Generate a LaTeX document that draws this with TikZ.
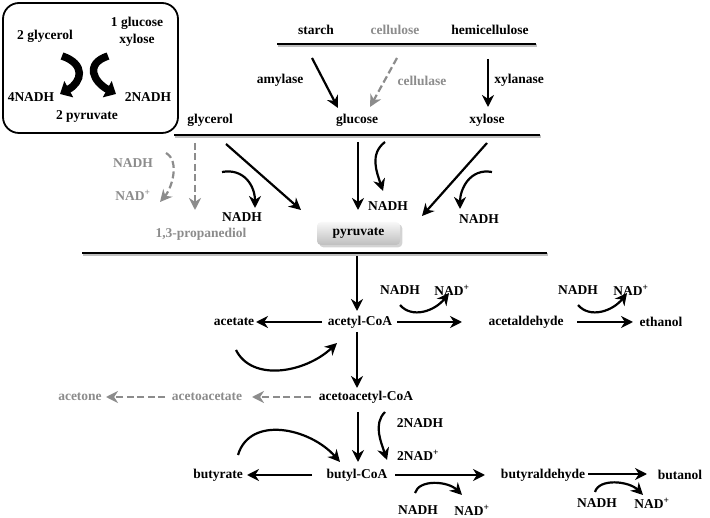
\documentclass[tikz,border=0pt]{standalone}
\usepackage{fontspec}
\setmainfont{Liberation Serif}
\usepackage{xcolor}
\definecolor{pathgray}{RGB}{140, 140, 140}
\definecolor{boxtop}{RGB}{248, 248, 248}
\definecolor{boxbottom}{RGB}{190, 190, 190}
\usetikzlibrary{arrows.meta, positioning, shadows}

\begin{document}
\begin{tikzpicture}[
        x=1pt, y=-1pt,
        every node/.style={font=\bfseries\fontsize{13.5}{17}\selectfont, inner sep=1pt},
        faded/.style={text=pathgray},
        flow/.style={-{Stealth[length=12pt, width=12pt]}, line width=2.2pt},
        gflow/.style={flow, draw=pathgray, dash pattern=on 7pt off 3.5pt},
        bigflow/.style={-{Triangle[length=10pt, width=18pt]}, line width=7.5pt},
        level/.style={line width=2.6pt, preaction={draw=black!25, line width=2.6pt, transform canvas={shift={(1pt,-1.5pt)}}}},
        hub/.style={rectangle, rounded corners=4pt, minimum width=83pt, minimum height=23pt, top color=boxtop, bottom color=boxbottom, drop shadow={opacity=0.35}},
    ]
        \useasboundingbox (0,0) rectangle (710,518);

        % Yield box
        \draw[line width=1.8pt, rounded corners=16pt] (3,3) rectangle (178,133);
        \node (boxGly) at (45,36) {2 glycerol};
        \node[align=center] (boxSugar) at (137,32) {1 glucose\\xylose};
        \node (box4) at (31,97) {4NADH};
        \node (box2) at (148,97) {2NADH};
        \node (boxPyr) at (87,116) {2 pyruvate};
        \draw[bigflow] ([shift={(17,20)}]boxGly.center) .. controls +(24,8) and +(22,-12) .. ([shift={(29,-3)}]box4.center);
        \draw[bigflow] ([shift={(-29,24)}]boxSugar.center) .. controls +(-24,8) and +(-22,-12) .. ([shift={(-32,-3)}]box2.center);

        % Polymers
        \node (starch) at (316,30) {starch};
        \node[faded] (cellulose) at (395,30) {cellulose};
        \node (hemicell) at (490,30) {hemicellulose};
        \draw[level] (277,44) -- (536,44);

        \node (amylase) at (280,80) {amylase};
        \node[faded] (cellulase) at (422,81) {cellulase};
        \node (xylanase) at (519,80) {xylanase};

        % Substrates
        \node (glycerol) at (210,120) {glycerol};
        \node (glucose) at (357,120) {glucose};
        \node (xylose) at (487,120) {xylose};
        \draw[level] (174,135) -- (540,135);

        \draw[flow] ([shift={(-4,28)}]starch.center) -- ([shift={(-19,-12)}]glucose.center);
        \draw[gflow] ([shift={(2,28)}]cellulose.center) -- ([shift={(13,-13)}]glucose.center);
        \draw[flow] ([shift={(-2,29)}]hemicell.center) -- ([shift={(1,-13)}]xylose.center);

        % Glycolysis
        \node[faded] (gNADH) at (133,163) {NADH};
        \node[faded] (gNAD) at (133,195) {NAD\textsuperscript{+}};
        \node[faded] (propanediol) at (201,234) {1,3-propanediol};
        \node (nadhGly) at (242,217) {NADH};
        \node (nadhGlc) at (388,206) {NADH};
        \node (nadhXyl) at (479,219) {NADH};
        \node[hub] (pyruvate) at (358.5,233.5) {pyruvate};
        \draw[level] (82,253) -- (547,253);

        \draw[gflow] ([shift={(-15,23)}]glycerol.center) -- ([shift={(-6,-24)}]propanediol.center);
        \draw[gflow] ([shift={(33,-10)}]gNADH.center) .. controls +(14,8) and +(12,-14) .. ([shift={(27,7)}]gNAD.center);
        \draw[flow] ([shift={(16,24)}]glycerol.center) -- ([shift={(-57.5,-23.5)}]pyruvate.center);
        \draw[flow] ([shift={(-20,-45)}]nadhGly.center) .. controls +(22,-4) and +(0,-22) .. ([shift={(13,-9)}]nadhGly.center);
        \draw[flow] ([shift={(1,22)}]glucose.center) -- ([shift={(-0.5,-23.5)}]pyruvate.center);
        \draw[flow] ([shift={(-3,-64)}]nadhGlc.center) .. controls +(-16,12) and +(-6,-18) .. ([shift={(-5,-15)}]nadhGlc.center);
        \draw[flow] ([shift={(0,23)}]xylose.center) -- ([shift={(63.5,-17.5)}]pyruvate.center);
        \draw[flow] ([shift={(13,-47)}]nadhXyl.center) .. controls +(-22,-4) and +(0,-20) .. ([shift={(-19,-10)}]nadhXyl.center);

        % Acetyl-CoA branch
        \node (acetylCoA) at (360,322) {acetyl-CoA};
        \node (acetate) at (234,322) {acetate};
        \node (acetaldehyde) at (526,322) {acetaldehyde};
        \node (ethanol) at (661,322) {ethanol};
        \node (nadhAc) at (400,290) {NADH};
        \node (nadAc) at (452,290) {NAD\textsuperscript{+}};
        \node (nadhEt) at (578,290) {NADH};
        \node (nadEt) at (631,290) {NAD\textsuperscript{+}};

        \draw[flow] ([shift={(-1.5,22.5)}]pyruvate.center) -- ([shift={(-3,-11)}]acetylCoA.center);
        \draw[flow] ([shift={(-38,0)}]acetylCoA.center) -- ([shift={(22,0)}]acetate.center);
        \draw[flow] ([shift={(37,0)}]acetylCoA.center) -- ([shift={(-64,0)}]acetaldehyde.center);
        \draw[flow] ([shift={(0,15)}]nadhAc.center) .. controls +(12,14) and +(-14,18) .. ([shift={(-3,3)}]nadAc.center);
        \draw[flow] ([shift={(51,0)}]acetaldehyde.center) -- ([shift={(-28,0)}]ethanol.center);
        \draw[flow] ([shift={(0,15)}]nadhEt.center) .. controls +(12,14) and +(-14,18) .. ([shift={(-4,3)}]nadEt.center);
        \draw[flow] ([shift={(2,28)}]acetate.center) .. controls +(16,32) and +(-32,30) .. ([shift={(-23,21)}]acetylCoA.center);

        % Solvent branch
        \node (acetoacetylCoA) at (366,397) {acetoacetyl-CoA};
        \node[faded] (acetoacetate) at (207,397) {acetoacetate};
        \node[faded] (acetone) at (80,397) {acetone};
        \node (nadh2Bu) at (420,423) {2NADH};
        \node (nad2Bu) at (418,455) {2NAD\textsuperscript{+}};

        \draw[flow] ([shift={(-3,10)}]acetylCoA.center) -- ([shift={(-9,-9)}]acetoacetylCoA.center);
        \draw[gflow] ([shift={(-55,0)}]acetoacetylCoA.center) -- ([shift={(45,0)}]acetoacetate.center);
        \draw[gflow] ([shift={(-42,0)}]acetoacetate.center) -- ([shift={(26,0)}]acetone.center);

        \node (butylCoA) at (357,475) {butyl-CoA};
        \node (butyrate) at (218,475) {butyrate};
        \node (butyraldehyde) at (543,475) {butyraldehyde};
        \node (butanol) at (680,475) {butanol};
        \node (nadhBa) at (418,510) {NADH};
        \node (nadBa) at (472,510) {NAD\textsuperscript{+}};
        \node (nadhBo) at (597,503) {NADH};
        \node (nadBo) at (652,503) {NAD\textsuperscript{+}};

        \draw[flow] ([shift={(-8,15)}]acetoacetylCoA.center) -- ([shift={(1,-13)}]butylCoA.center);
        \draw[flow] ([shift={(-35,-11)}]nadh2Bu.center) .. controls +(-12,12) and +(-6,-18) .. ([shift={(-31,5)}]nad2Bu.center);
        \draw[flow] ([shift={(-45,0)}]butylCoA.center) -- ([shift={(29,0)}]butyrate.center);
        \draw[flow] ([shift={(20,-20)}]butyrate.center) .. controls +(12,-40) and +(-30,-34) .. ([shift={(-17,-13)}]butylCoA.center);
        \draw[flow] ([shift={(38,0)}]butylCoA.center) -- ([shift={(-58,0)}]butyraldehyde.center);
        \draw[flow] ([shift={(-3,-17)}]nadhBa.center) .. controls +(4,-14) and +(-14,-14) .. ([shift={(-10,-15)}]nadBa.center);
        \draw[flow] ([shift={(45,-1)}]butyraldehyde.center) -- ([shift={(-33,-1)}]butanol.center);
        \draw[flow] ([shift={(-2,-11)}]nadhBo.center) .. controls +(4,-14) and +(-14,-14) .. ([shift={(-9,-8)}]nadBo.center);

    \end{tikzpicture}
\end{document}
